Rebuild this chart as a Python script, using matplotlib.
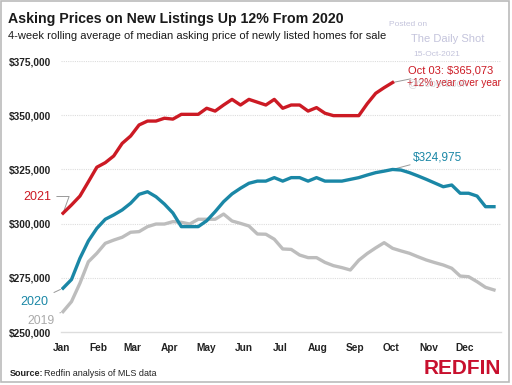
import numpy as np
import matplotlib
matplotlib.use("Agg")
import matplotlib.pyplot as plt
from matplotlib.patches import Rectangle

# weekly values, thousands of dollars
prices_2021 = [304.8, 308.6, 312.7, 319.3, 326.0, 328.1, 331.2, 337.0, 340.4, 345.5,
               347.3, 347.3, 348.6, 348.2, 350.4, 350.4, 350.4, 353.2, 351.9, 354.7,
               357.3, 354.7, 357.3, 356.0, 354.7, 357.3, 353.2, 354.7, 354.7, 351.9,
               353.5, 350.9, 349.8, 349.8, 349.8, 349.8, 355.3, 360.1, 362.7, 365.073]
prices_2020 = [270.2, 274.2, 284.0, 292.0, 297.8, 302.0, 304.0, 306.3, 309.4, 313.5,
               314.7, 312.4, 309.0, 304.9, 298.6, 298.6, 298.6, 301.3, 305.5, 310.1,
               313.7, 316.3, 318.6, 319.6, 319.6, 321.2, 319.6, 321.2, 321.2, 319.6,
               321.2, 319.6, 319.6, 319.6, 320.4, 321.2, 322.4, 323.5, 324.2, 324.975,
               324.7, 323.5, 322.0, 320.4, 318.7, 317.0, 317.8, 314.0, 314.0, 312.7,
               307.8, 307.8]
prices_2019 = [259.4, 264.0, 272.5, 282.4, 286.3, 290.9, 292.4, 293.7, 296.0, 296.3,
               298.6, 299.8, 299.8, 300.9, 300.6, 299.8, 302.0, 302.0, 302.0, 304.4,
               301.2, 300.1, 298.9, 295.2, 295.1, 292.8, 288.3, 288.1, 285.5, 284.3,
               284.3, 282.1, 280.6, 279.7, 278.6, 283.1, 286.2, 288.8, 291.2, 288.6,
               287.4, 286.3, 284.7, 283.2, 282.0, 280.9, 279.4, 275.8, 275.5, 273.2,
               270.6, 269.4]
months = ["Jan", "Feb", "Mar", "Apr", "May", "Jun", "Jul", "Aug", "Sep", "Oct", "Nov", "Dec"]
month_days = [0, 31, 59, 90, 120, 151, 181, 212, 243, 273, 304, 334]
y_ticks = [250000, 275000, 300000, 325000, 350000, 375000]

RED = "#cc1a24"
TEAL = "#1a87a6"
GRAY = "#bdbdbd"
font = "Liberation Sans"

fig = plt.figure(figsize=(5.12, 3.85), dpi=100)
ax = fig.add_axes([61 / 512, 1 - 332 / 385, 440 / 512, 271 / 385])

def dollars(v):
    return np.array(v) * 1000

ax.plot(np.arange(len(prices_2019)), dollars(prices_2019), color=GRAY, lw=2.4,
        solid_joinstyle="round", zorder=3)
ax.plot(np.arange(len(prices_2020)), dollars(prices_2020), color=TEAL, lw=2.4,
        solid_joinstyle="round", zorder=4)
ax.plot(np.arange(len(prices_2021)), dollars(prices_2021), color=RED, lw=2.4,
        solid_joinstyle="round", zorder=5)

ax.set_xlim(-0.24, 51.83)
ax.set_ylim(250000, 375000)
ax.set_yticks(y_ticks)
ax.set_yticklabels(["${:,}".format(t) for t in y_ticks], fontsize=7.3,
                   fontweight="bold", family=font, color="#222222")
ax.set_xticks([d / 7 - 0.2 for d in month_days])
ax.set_xticklabels(months, fontsize=7.3, fontweight="bold", family=font, color="#222222")
ax.tick_params(length=0, pad=8)
ax.tick_params(axis="y", pad=7)
for t in y_ticks[1:]:
    ax.axhline(t, color="#dddddd", lw=0.8, ls=(0, (1, 1)), zorder=1)
for s in ["top", "right", "left"]:
    ax.spines[s].set_visible(False)
ax.spines["bottom"].set_color("#dddddd")
ax.spines["bottom"].set_linewidth(1)

# year labels with leader lines
ax.annotate("2021", xy=(0, dollars(prices_2021)[0]), xytext=(-1.4, 312500),
            color=RED, fontsize=9, family=font, ha="right", va="center",
            arrowprops=dict(arrowstyle="-", color="#999999", lw=0.7,
                            connectionstyle="angle,angleA=0,angleB=70,rad=0"),
            annotation_clip=False)
ax.annotate("2020", xy=(0, dollars(prices_2020)[0]), xytext=(-1.7, 264000),
            color=TEAL, fontsize=9, family=font, ha="right", va="center",
            arrowprops=dict(arrowstyle="-", color="#999999", lw=0.7),
            annotation_clip=False)
ax.annotate("2019", xy=(0, dollars(prices_2019)[0]), xytext=(-1.0, 255300),
            color="#aaaaaa", fontsize=8.8, family=font, ha="right", va="center",
            arrowprops=dict(arrowstyle="-", color="#999999", lw=0.7),
            annotation_clip=False)

last = len(prices_2021) - 1
ax.annotate("Oct 03: ${:,.0f}".format(prices_2021[-1] * 1000), xy=(last, dollars(prices_2021)[-1]),
            xytext=(40.8, 370500), color=RED, fontsize=8, family=font,
            ha="left", va="center",
            arrowprops=dict(arrowstyle="-", color="#999999", lw=0.7, shrinkA=1, shrinkB=1))
ax.text(40.7, 365000, "+12% year over year", color=RED, fontsize=7.3, family=font,
        ha="left", va="center")
peak = int(np.argmax(prices_2020))
ax.annotate("${:,.0f}".format(prices_2020[peak] * 1000), xy=(peak, dollars(prices_2020)[peak]),
            xytext=(41.4, 330500), color=TEAL, fontsize=8.5, family=font,
            ha="left", va="center",
            arrowprops=dict(arrowstyle="-", color="#999999", lw=0.7, shrinkA=0, shrinkB=1))

fig.text(8 / 512, 1 - 19 / 385, "Asking Prices on New Listings Up 12% From 2020",
         fontsize=10.2, fontweight="bold", family=font, color="#1a1a1a", va="center")
fig.text(8 / 512, 1 - 36 / 385,
         "4-week rolling average of median asking price of newly listed homes for sale",
         fontsize=8, family=font, color="#1a1a1a", va="center")

fig.text(389 / 512, 1 - 24 / 385, "Posted on", fontsize=6, family=font, color="#c4c4dc", va="center")
fig.text(411 / 512, 1 - 39 / 385, "The Daily Shot", fontsize=8, family=font, color="#c4c4dc", va="center")
fig.text(413 / 512, 1 - 54 / 385, "15-Oct-2021", fontsize=6, family=font, color="#c4c4dc", va="center")
# faint watermark, sits over the annotation as in the source image
fig.text(407 / 512, 1 - 83 / 385, "@SoberLook", fontsize=7.5, family=font, color="#b0b0b8",
         alpha=0.5, va="center", zorder=10)

src = fig.text(10 / 512, 1 - 374 / 385, "Source:", fontsize=6.5, fontweight="bold", family=font,
               color="#222222", va="center")
fig.canvas.draw()
bb = src.get_window_extent()
fig.text((bb.x1 + 1) / 512, 1 - 374 / 385, "Redfin analysis of MLS data", fontsize=6.5,
         family=font, color="#222222", va="center")
fig.text(501 / 512, 1 - 369 / 385, "REDFIN", fontsize=15, fontweight="bold", family=font,
         color="#c8102e", ha="right", va="center")

fig.patches.append(Rectangle((1 / 512, 3 / 385), 508 / 512, 381 / 385, transform=fig.transFigure,
                             fill=False, edgecolor="#bbbbbb", lw=1.2))

fig.savefig("out.png", dpi=100)
